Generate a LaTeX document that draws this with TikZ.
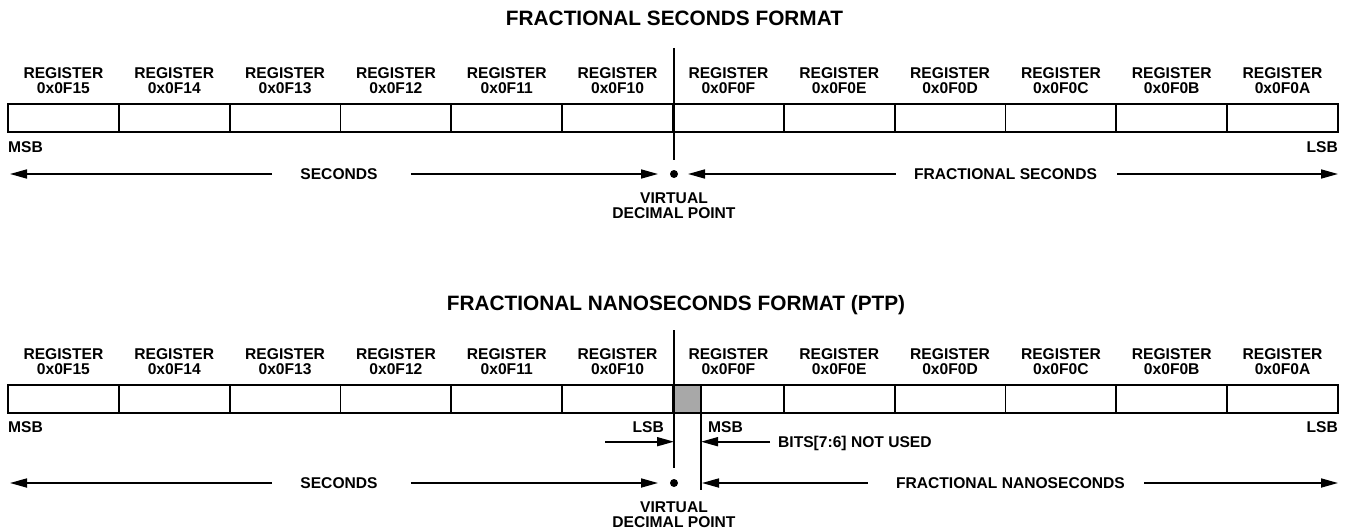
\documentclass[tikz,border=0pt]{standalone}
\usepackage{fontspec}
\setmainfont{Liberation Sans}
\usetikzlibrary{arrows.meta}
\definecolor{grayfill}{RGB}{168,168,168}
\begin{document}
\begin{tikzpicture}[x=1pt,y=-1pt,
 lbl/.style={font=\bfseries\fontsize{15.6}{15}\selectfont, inner sep=0pt, text height=11.2pt, text depth=0pt},
 reglbl/.style={font=\bfseries\fontsize{15.6}{15}\selectfont, inner sep=0pt, align=center, anchor=south, text depth=0pt},
 ttl/.style={font=\bfseries\fontsize{20.8}{22}\selectfont, inner sep=0pt, anchor=base},
 reg/.style={draw, line width=1.9pt, minimum width=110.83pt, minimum height=28pt, inner sep=0pt, outer sep=0pt, anchor=north west},
 arr/.style={line width=1.7pt, -{Triangle[length=17pt,width=9pt]}},
 dotn/.style={circle, fill, inner sep=0pt, minimum size=8pt},
 thinv/.style={line width=1.1pt},
]
\useasboundingbox (0,0) rectangle (1346,532);

% ---------- TOP: FRACTIONAL SECONDS FORMAT ----------
\node[ttl] (title1) at (674.5,25.7) {FRACTIONAL SECONDS FORMAT};
\foreach \h [count=\i from 0] in {15,14,13,12,11,10,0F,0E,0D,0C,0B,0A} {
  \node[reg] (a\i) at ({8+\i*110.83},104) {};
  \node[reglbl] (al\i) at ([yshift=10.2pt]a\i.north) {REGISTER\\0x0F\h};
}
\coordinate (vtop1) at (674,48);
\coordinate (vbot1) at (674,160);
\draw[thinv] (vtop1) -- (vbot1);
\node[lbl, anchor=base west] (msb1) at (8,152.6) {MSB};
\node[lbl, anchor=base east] (lsb1) at (1338,152.6) {LSB};
\node[dotn] (dot1) at (674,174) {};
\coordinate (tipL1) at (10,174);
\coordinate (tipR1) at (1338,174);
\node[lbl] (sec1) at (339,174) {SECONDS};
\node[lbl] (fs1) at (1005.5,174) {FRACTIONAL SECONDS};
\draw[arr] ([xshift=-28pt]sec1.west) -- (tipL1);
\draw[arr] ([xshift=33pt]sec1.east) -- ([xshift=-16pt]dot1.center);
\draw[arr] ([xshift=-18pt]fs1.west) -- ([xshift=14pt]dot1.center);
\draw[arr] ([xshift=20pt]fs1.east) -- (tipR1);
\node[reglbl] (vdp1) at (674,218.6) {VIRTUAL\\DECIMAL POINT};

% ---------- BOTTOM: FRACTIONAL NANOSECONDS FORMAT (PTP) ----------
\node[ttl] (title2) at (676,310) {FRACTIONAL NANOSECONDS FORMAT (PTP)};
\foreach \h [count=\i from 0] in {15,14,13,12,11,10,0F,0E,0D,0C,0B,0A} {
  \node[reg] (b\i) at ({8+\i*110.83},385) {};
  \node[reglbl] (bl\i) at ([yshift=10.5pt]b\i.north) {REGISTER\\0x0F\h};
}
\node[reg, fill=grayfill, minimum width=27pt] (gray) at (674,385) {};
\coordinate (vtop2) at (674,330);
\coordinate (vbot2) at (674,468);
\draw[thinv] (vtop2) -- (vbot2);
\coordinate (thk2) at (701,490);
\draw[line width=2.1pt] (gray.south east) -- (thk2);
\node[lbl, anchor=base west] (msb2) at (8,432.6) {MSB};
\node[lbl, anchor=base east] (lsb2) at (1338,432.6) {LSB};
\node[lbl, anchor=base east] (lsb2b) at (664,432.6) {LSB};
\node[lbl, anchor=base west] (msb2b) at (708,432.6) {MSB};
\coordinate (lsbs) at (605,441.7);
\coordinate (lsbt) at (674,441.7);
\draw[arr] (lsbs) -- (lsbt);
\node[lbl, anchor=west] (bits) at (778,441.7) {BITS[7:6] NOT USED};
\coordinate (bitt) at (701,441.7);
\draw[arr] ([xshift=-8pt]bits.west) -- (bitt);
\node[dotn] (dot2) at (674,483) {};
\coordinate (tipL2) at (10,483);
\coordinate (tipR2) at (1338,483);
\coordinate (tipM2) at (702,483);
\node[lbl] (sec2) at (339,483) {SECONDS};
\node[lbl] (fn2) at (1010.5,483) {FRACTIONAL NANOSECONDS};
\draw[arr] ([xshift=-28pt]sec2.west) -- (tipL2);
\draw[arr] ([xshift=33pt]sec2.east) -- ([xshift=-16pt]dot2.center);
\draw[arr] ([xshift=-28pt]fn2.west) -- (tipM2);
\draw[arr] ([xshift=19pt]fn2.east) -- (tipR2);
\node[reglbl] (vdp2) at (674,527.5) {VIRTUAL\\DECIMAL POINT};
\end{tikzpicture}
\end{document}
